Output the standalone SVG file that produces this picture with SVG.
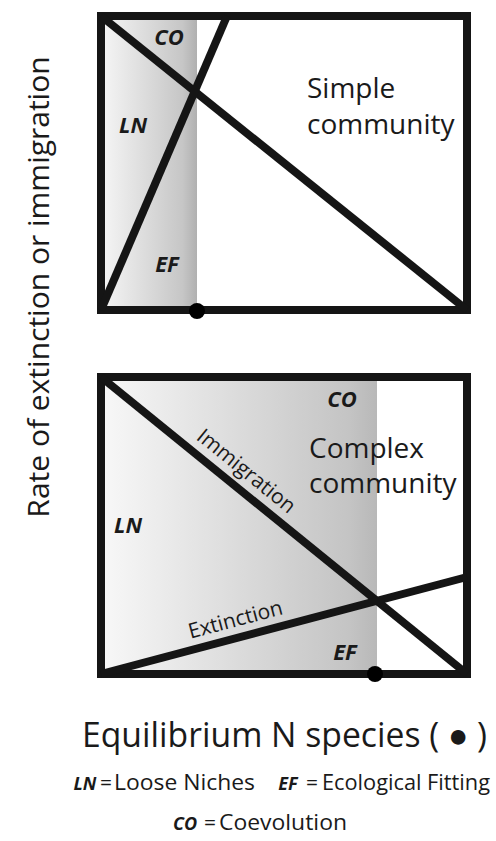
<svg xmlns="http://www.w3.org/2000/svg" width="496" height="841" viewBox="0 0 496 841">
  <style>
    .frame { fill: none; stroke: #151515; stroke-width: 8; }
    .curve { stroke: #151515; stroke-width: 8; stroke-linecap: butt; fill: none; }
    .dot { fill: #000; }
    .abbr { font-family: "Open Sans", "Liberation Sans", sans-serif; font-weight: bold; font-style: italic; font-size: 22px; fill: #1a1a1a; text-anchor: middle; }
    .big { font-family: "Open Sans", "Liberation Sans", sans-serif; font-size: 28px; fill: #1a1a1a; }
    .lbl { font-family: "Open Sans", "Liberation Sans", sans-serif; font-size: 21px; fill: #1a1a1a; text-anchor: middle; }
    .axis { font-family: "Open Sans", "Liberation Sans", sans-serif; font-size: 30px; fill: #1a1a1a; }
    .leg { font-family: "Open Sans", "Liberation Sans", sans-serif; font-size: 21px; fill: #1a1a1a; }
    .legb { font-family: "Open Sans", "Liberation Sans", sans-serif; font-size: 18px; font-weight: bold; font-style: italic; fill: #1a1a1a; text-anchor: middle; }
  </style>
  <defs>
    <linearGradient id="gTop" x1="0" y1="0" x2="1" y2="0">
      <stop offset="0" stop-color="#f6f6f6"/>
      <stop offset="0.85" stop-color="#c6c6c6"/>
      <stop offset="1" stop-color="#b0b0b0"/>
    </linearGradient>
    <linearGradient id="gBot" x1="0" y1="0" x2="1" y2="0">
      <stop offset="0" stop-color="#f8f8f8"/>
      <stop offset="0.9" stop-color="#c4c4c4"/>
      <stop offset="1" stop-color="#b8b8b8"/>
    </linearGradient>
  </defs>
  <rect width="496" height="841" fill="#fff"/>

  <g id="top-panel">
    <rect x="101" y="16" width="96" height="294" fill="url(#gTop)"/>
    <rect class="frame" x="101" y="16" width="366" height="294"/>
  </g>
  <g id="bottom-panel">
    <rect x="101" y="377" width="276" height="297" fill="url(#gBot)"/>
    <rect class="frame" x="101" y="377" width="366" height="297"/>
  </g>

  <g id="connectors">
    <line class="curve" x1="101" y1="16" x2="467" y2="310"/>
    <line class="curve" x1="101" y1="310" x2="227" y2="16"/>
    <line class="curve" x1="101" y1="377" x2="467" y2="674"/>
    <line class="curve" x1="101" y1="674" x2="467" y2="577"/>
  </g>

  <g id="top-labels">
    <text class="abbr" x="169" y="45">CO</text>
    <text class="abbr" x="133" y="133">LN</text>
    <text class="abbr" x="167" y="272">EF</text>
    <text class="big" x="307" y="98">Simple</text>
    <text class="big" x="307" y="134">community</text>
    <circle id="eq-top" class="dot" cx="197" cy="311" r="8"/>
  </g>

  <g id="bottom-labels">
    <text class="abbr" x="342" y="407">CO</text>
    <text class="abbr" x="128" y="533">LN</text>
    <text class="abbr" x="345" y="660">EF</text>
    <text class="big" x="309" y="458">Complex</text>
    <text class="big" x="309" y="493">community</text>
    <text class="lbl" transform="translate(235,485) rotate(39.06)" x="0" y="-11">Immigration</text>
    <text class="lbl" transform="translate(240,637) rotate(-14.84)" x="0" y="-11">Extinction</text>
    <circle id="eq-bottom" class="dot" cx="375" cy="674" r="8"/>
  </g>

  <g id="axis-y">
    <text class="axis" transform="translate(49,287) rotate(-90)" text-anchor="middle">Rate of extinction or immigration</text>
  </g>
  <g id="axis-x">
    <text class="axis" x="82" y="747" style="font-size:34px" textLength="405" lengthAdjust="spacingAndGlyphs">Equilibrium N species ( ● )</text>
  </g>

  <g id="legend">
    <text class="legb" x="85" y="790">LN</text>
    <text class="leg" x="100" y="790">=</text>
    <text class="leg" x="114" y="790" textLength="141" lengthAdjust="spacingAndGlyphs">Loose Niches</text>
    <text class="legb" x="288" y="790">EF</text>
    <text class="leg" x="306" y="790">=</text>
    <text class="leg" x="322" y="790" textLength="168" lengthAdjust="spacingAndGlyphs">Ecological Fitting</text>
    <text class="legb" x="185" y="830">CO</text>
    <text class="leg" x="204" y="830">=</text>
    <text class="leg" x="219" y="830" textLength="128" lengthAdjust="spacingAndGlyphs">Coevolution</text>
  </g>
</svg>
